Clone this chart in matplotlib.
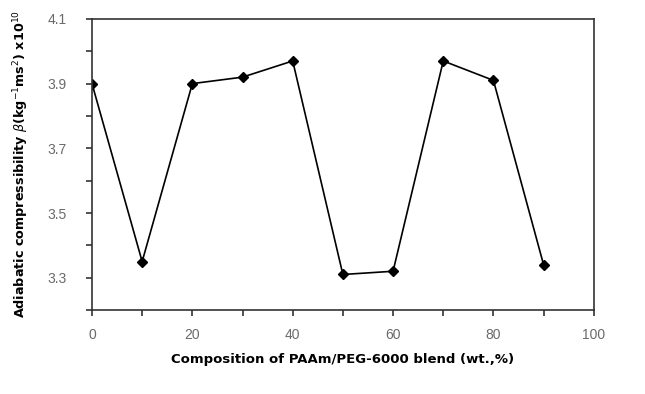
import matplotlib
matplotlib.use("Agg")
import matplotlib.pyplot as plt
from matplotlib.ticker import MultipleLocator, FixedLocator

composition = [0, 10, 20, 30, 40, 50, 60, 70, 80, 90]
compressibility = [3.90, 3.35, 3.90, 3.92, 3.97, 3.31, 3.32, 3.97, 3.91, 3.34]
xtick_labels = [0, 20, 40, 60, 80, 100]
ytick_labels = [3.3, 3.5, 3.7, 3.9, 4.1]

fig = plt.figure(figsize=(6.45, 3.94), dpi=100)
ax = fig.add_axes([0.1426, 0.213, 0.778, 0.739])

ax.plot(composition, compressibility, color="black", linewidth=1.2,
        marker="D", markersize=5, markerfacecolor="black", markeredgecolor="black")

ax.set_xlim(0, 100)
ax.set_ylim(3.2, 4.1)
ax.xaxis.set_major_locator(FixedLocator(xtick_labels))
ax.xaxis.set_minor_locator(MultipleLocator(10))
ax.yaxis.set_major_locator(FixedLocator(ytick_labels))
ax.yaxis.set_minor_locator(MultipleLocator(0.1))
ax.set_yticklabels([f"{v:.1f}" for v in ytick_labels])

tick_col = "#6a6a6a"
ax.tick_params(axis="both", which="both", direction="out", length=4, width=1.2,
               color="#333333")
ax.tick_params(axis="x", which="major", pad=9, labelsize=10, labelcolor=tick_col)
ax.tick_params(axis="y", which="major", pad=14, labelsize=10, labelcolor=tick_col)
for lab in ax.get_xticklabels() + ax.get_yticklabels():
    lab.set_family("Liberation Sans")

for sp in ax.spines.values():
    sp.set_linewidth(1.2)
    sp.set_color("#333333")

ax.set_xlabel("Composition of PAAm/PEG-6000 blend (wt.,%)", fontsize=9.5,
              fontweight="bold", family="DejaVu Sans", labelpad=8)
ax.set_ylabel(r"Adiabatic compressibility $\beta$(kg$^{-1}$ms$^{2}$) x10$^{10}$",
              fontsize=9.2, fontweight="bold", family="DejaVu Sans", labelpad=12)

fig.savefig("out.png", dpi=100)
